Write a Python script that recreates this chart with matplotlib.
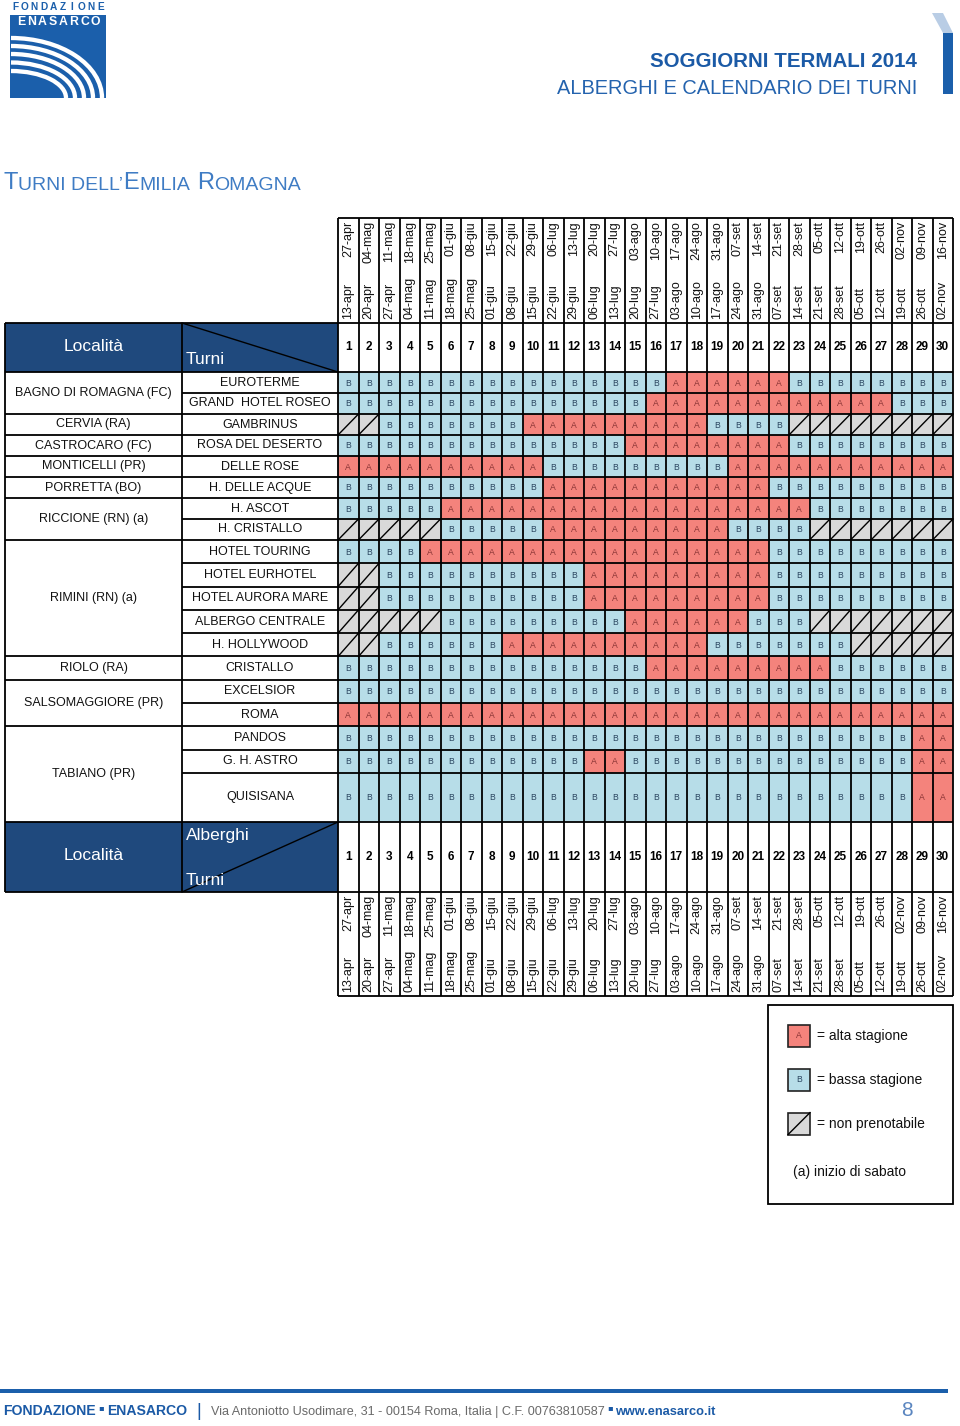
import matplotlib
matplotlib.use("Agg")
import matplotlib.pyplot as plt
from matplotlib.patches import Rectangle, Polygon, Arc
from matplotlib import font_manager as fm

# ---------------- data ----------------
turni = ["1", "2", "3", "4", "5", "6", "7", "8", "9", "10",
         "11", "12", "13", "14", "15", "16", "17", "18", "19", "20",
         "21", "22", "23", "24", "25", "26", "27", "28", "29", "30"]
start_dates = ["13-apr", "20-apr", "27-apr", "04-mag", "11-mag", "18-mag", "25-mag",
               "01-giu", "08-giu", "15-giu", "22-giu", "29-giu", "06-lug", "13-lug",
               "20-lug", "27-lug", "03-ago", "10-ago", "17-ago", "24-ago", "31-ago",
               "07-set", "14-set", "21-set", "28-set", "05-ott", "12-ott", "19-ott",
               "26-ott", "02-nov"]
end_dates = ["27-apr", "04-mag", "11-mag", "18-mag", "25-mag", "01-giu", "08-giu",
             "15-giu", "22-giu", "29-giu", "06-lug", "13-lug", "20-lug", "27-lug",
             "03-ago", "10-ago", "17-ago", "24-ago", "31-ago", "07-set", "14-set",
             "21-set", "28-set", "05-ott", "12-ott", "19-ott", "26-ott", "02-nov",
             "09-nov", "16-nov"]
localita = ["BAGNO DI ROMAGNA (FC)", "CERVIA (RA)", "CASTROCARO (FC)", "MONTICELLI (PR)",
            "PORRETTA (BO)", "RICCIONE (RN) (a)", "RIMINI (RN) (a)", "RIOLO (RA)",
            "SALSOMAGGIORE (PR)", "TABIANO (PR)"]
hotels_per_localita = [2, 1, 1, 1, 1, 2, 5, 1, 2, 3]
hotels = ["EUROTERME", "GRAND  HOTEL ROSEO", "GAMBRINUS", "ROSA DEL DESERTO", "DELLE ROSE",
          "H. DELLE ACQUE", "H. ASCOT", "H. CRISTALLO", "HOTEL TOURING", "HOTEL EURHOTEL",
          "HOTEL AURORA MARE", "ALBERGO CENTRALE", "H. HOLLYWOOD", "CRISTALLO", "EXCELSIOR",
          "ROMA", "PANDOS", "G. H. ASTRO", "QUISISANA"]
# A = alta stagione, B = bassa stagione, X = non prenotabile (run lengths over the 30 turni)
stagione_runs = [
    [("B", 16), ("A", 6), ("B", 8)],                          # EUROTERME
    [("B", 15), ("A", 12), ("B", 3)],                         # GRAND HOTEL ROSEO
    [("X", 2), ("B", 7), ("A", 9), ("B", 4), ("X", 8)],       # GAMBRINUS
    [("B", 14), ("A", 8), ("B", 8)],                          # ROSA DEL DESERTO
    [("A", 10), ("B", 9), ("A", 11)],                         # DELLE ROSE
    [("B", 10), ("A", 11), ("B", 9)],                         # H. DELLE ACQUE
    [("B", 5), ("A", 18), ("B", 7)],                          # H. ASCOT
    [("X", 5), ("B", 5), ("A", 9), ("B", 4), ("X", 7)],       # H. CRISTALLO
    [("B", 4), ("A", 17), ("B", 9)],                          # HOTEL TOURING
    [("X", 2), ("B", 10), ("A", 9), ("B", 9)],                # HOTEL EURHOTEL
    [("X", 2), ("B", 10), ("A", 9), ("B", 9)],                # HOTEL AURORA MARE
    [("X", 5), ("B", 9), ("A", 6), ("B", 3), ("X", 7)],       # ALBERGO CENTRALE
    [("X", 2), ("B", 6), ("A", 10), ("B", 7), ("X", 5)],      # H. HOLLYWOOD
    [("B", 15), ("A", 9), ("B", 6)],                          # CRISTALLO
    [("B", 30)],                                              # EXCELSIOR
    [("A", 30)],                                              # ROMA
    [("B", 28), ("A", 2)],                                    # PANDOS
    [("B", 12), ("A", 2), ("B", 14), ("A", 2)],               # G. H. ASTRO
    [("B", 28), ("A", 2)],                                    # QUISISANA
]
legend_codes = ["A", "B", "X"]
legend_labels = ["= alta stagione", "= bassa stagione", "= non prenotabile"]
nota = "(a) inizio di sabato"


# ---------------- fonts ----------------
def has_font(name):
    try:
        fm.findfont(fm.FontProperties(family=name), fallback_to_default=False)
        return True
    except Exception:
        return False


SANS = ["Liberation Sans", "DejaVu Sans"]
NARROW_OK = has_font("Liberation Sans Narrow")
NARROW = ["Liberation Sans Narrow", "Liberation Sans", "DejaVu Sans"] if NARROW_OK else SANS
KN = 1.0 if NARROW_OK else 0.82

NAVY = "#1f497d"
BLUE = "#1d5ca8"
FILL = {"A": "#f4837c", "B": "#b7dde8", "X": "#d9d9d9"}
LET = {"A": "#8a3535", "B": "#2b4660"}

# ---------------- figure ----------------
W, H = 960, 1426
fig = plt.figure(figsize=(9.6, 14.26), dpi=100)
fig.patch.set_facecolor("white")
ax = fig.add_axes([0, 0, 1, 1])
ax.set_xlim(0, W)
ax.set_ylim(H, 0)
ax.axis("off")

# layout
X0, CW = 338.0, 20.5
NC = len(turni)
X1 = X0 + NC * CW
LX0, LX1 = 5.0, 182.0
TOP_D0, TOP_D1 = 218.0, 323.0
HDR1 = 372.0
row_h = [21.0] * 8 + [23.3] * 10 + [49.0]
row_edges = [HDR1]
for h in row_h:
    row_edges.append(row_edges[-1] + h)
TB = row_edges[-1]           # table bottom
BH1 = TB + 70.0              # bottom header end
BD1 = BH1 + 104.0            # bottom dates end
LW = 1.3


def col_x(i):
    return X0 + i * CW


# ---------------- cells ----------------
for r, runs in enumerate(stagione_runs):
    y0, y1 = row_edges[r], row_edges[r + 1]
    c = 0
    for code, n in runs:
        for _ in range(n):
            x = col_x(c)
            ax.add_patch(Rectangle((x, y0), CW, y1 - y0, facecolor=FILL[code],
                                   edgecolor="none", zorder=1))
            if code == "X":
                ax.plot([x, x + CW], [y1, y0], color="black", lw=1.0, zorder=3)
            else:
                ax.text(x + CW / 2, (y0 + y1) / 2 + 0.5, code, fontsize=6.2,
                        color=LET[code], ha="center", va="center", family=SANS, zorder=4)
            c += 1

# ---------------- headers ----------------
for (ya, yb) in [(TOP_D1, HDR1), (TB, BH1)]:
    ax.add_patch(Rectangle((LX0, ya), X0 - LX0, yb - ya, facecolor=NAVY,
                           edgecolor="none", zorder=1))
    for i, t in enumerate(turni):
        ax.text(col_x(i) + CW / 2, (ya + yb) / 2, t, fontsize=8.5, fontweight="bold",
                ha="center", va="center", family=SANS, zorder=4)
    ax.text((LX0 + LX1) / 2, (ya + yb) / 2 - 1, "Località", fontsize=12.5, color="white",
            ha="center", va="center", family=SANS, zorder=4)

# diagonals and labels in header cells
ax.plot([LX1, X0], [TOP_D1, HDR1], color="black", lw=1.0, zorder=3)
ax.text(LX1 + 4, HDR1 - 13, "Turni", fontsize=12.5, color="white", ha="left",
        va="center", family=SANS, zorder=4)
ax.plot([LX1, X0], [BH1, TB], color="black", lw=1.0, zorder=3)
ax.text(LX1 + 4, TB + 14, "Alberghi", fontsize=12.5, color="white", ha="left",
        va="center", family=SANS, zorder=4)
ax.text(LX1 + 4, BH1 - 11, "Turni", fontsize=12.5, color="white", ha="left",
        va="center", family=SANS, zorder=4)

# date labels (top & bottom)
for (d0, d1) in [(TOP_D0, TOP_D1), (BH1, BD1)]:
    for i in range(NC):
        xc = col_x(i) + CW / 2
        ax.text(xc, d1 - 4, start_dates[i], rotation=90, fontsize=9, ha="center",
                va="bottom", family=SANS, color="#111111", zorder=4)
        ax.text(xc, d0 + 3, end_dates[i], rotation=90, fontsize=9, ha="center",
                va="top", family=SANS, color="#111111", zorder=4)

# ---------------- left labels ----------------
r = 0
loc_edges = [row_edges[0]]
for name, n in zip(localita, hotels_per_localita):
    y0, y1 = row_edges[r], row_edges[r + n]
    ax.text((LX0 + LX1) / 2, (y0 + y1) / 2, name, fontsize=9, ha="center", va="center",
            family=SANS, color="#111111", zorder=4)
    r += n
    loc_edges.append(y1)
for i, name in enumerate(hotels):
    y0, y1 = row_edges[i], row_edges[i + 1]
    ax.text((LX1 + X0) / 2, (y0 + y1) / 2, name, fontsize=9, ha="center", va="center",
            family=SANS, color="#111111", zorder=4)

# ---------------- grid lines ----------------
for i in range(NC + 1):
    ax.vlines(col_x(i), TOP_D0, BD1, colors="black", lw=LW, zorder=5)
for y in [TOP_D0, BD1]:
    ax.hlines(y, X0, X1, colors="black", lw=LW, zorder=5)
for y in [TOP_D1, HDR1, TB, BH1]:
    ax.hlines(y, LX0, X1, colors="black", lw=LW, zorder=5)
for y in row_edges[1:-1]:
    ax.hlines(y, LX1, X1, colors="black", lw=LW, zorder=5)
for y in loc_edges[1:-1]:
    ax.hlines(y, LX0, LX1, colors="black", lw=LW, zorder=5)
for x in [LX0, LX1]:
    ax.vlines(x, TOP_D1, BH1, colors="black", lw=LW, zorder=5)

# ---------------- legend ----------------
lx0, ly0, lx1, ly1 = 768, 1005, 953, 1204
ax.add_patch(Rectangle((lx0, ly0), lx1 - lx0, ly1 - ly0, fill=False, edgecolor="black",
                       lw=1.3, zorder=5))
for i, (code, lab) in enumerate(zip(legend_codes, legend_labels)):
    cy = 1036 + i * 43.8
    s = 22
    ax.add_patch(Rectangle((788, cy - s / 2), s, s, facecolor=FILL[code],
                           edgecolor="#222222", lw=1.2, zorder=5))
    if code == "X":
        ax.plot([788, 788 + s], [cy + s / 2, cy - s / 2], color="black", lw=1.0, zorder=6)
    else:
        ax.text(788 + s / 2, cy, code, fontsize=6.2, color=LET[code], ha="center",
                va="center", family=SANS, zorder=6)
    ax.text(817, cy, lab, fontsize=10, ha="left", va="center", family=SANS,
            color="#111111", zorder=6)
ax.text(793, 1172, nota, fontsize=10, ha="left", va="center", family=SANS,
        color="#111111", zorder=6)

# ---------------- logo ----------------
box = Rectangle((10, 14.5), 96, 83.5, facecolor="#1b5fab", edgecolor="none", zorder=2)
ax.add_patch(box)
for i, ch in enumerate("FONDAZIONE"):
    ax.text(15.5 + i * 9.45, 7.5, ch, fontsize=7.3, fontweight="bold", color="#1b5fab",
            ha="center", va="center", family=SANS, zorder=3)
for i, ch in enumerate("ENASARCO"):
    ax.text(21.5 + i * 10.5, 22, ch, fontsize=8.8, fontweight="bold", color="white",
            ha="center", va="center", family=SANS, zorder=3)
for rx, ry in [(91, 60), (82, 52), (73, 44), (64, 35.5), (55, 27)]:
    a = Arc((11, 98), 2 * rx, 2 * ry, theta1=270, theta2=360, color="white", lw=3.1,
            zorder=3)
    ax.add_patch(a)
    a.set_clip_path(box)

# top-right decoration
ax.add_patch(Polygon([(932, 13), (943, 13), (953, 33), (943, 33)], closed=True,
                     facecolor="#b9cde5", edgecolor="none", zorder=2))
ax.add_patch(Rectangle((943, 33), 10, 61, facecolor="#1b5fab", edgecolor="none", zorder=2))

# titles
ax.text(917, 67, "SOGGIORNI TERMALI 2014", fontsize=18 * KN, fontweight="bold",
        color="#1b5aa6", ha="right", va="baseline", family=NARROW, zorder=3)
ax.text(917, 94, "ALBERGHI E CALENDARIO DEI TURNI", fontsize=17.6 * KN,
        color="#2463ae", ha="right", va="baseline", family=NARROW, zorder=3)


def chain(x, y, parts):
    prev = None
    for s, kw, gap, dy in parts:
        if prev is None:
            prev = ax.text(x, y, s, ha="left", va="baseline", zorder=3, **kw)
        else:
            prev = ax.annotate(s, xy=(1, 0), xycoords=prev, xytext=(gap, dy),
                               textcoords="offset points", ha="left", va="bottom",
                               zorder=3, **kw)
    return prev


SUB = "#3f7cc4"
big = dict(fontsize=17, color=SUB, family=SANS)
small = dict(fontsize=14, color=SUB, family=SANS)
chain(3, 189, [("T", big, 0, 0), ("URNI DELL\u2019", small, 0.5, 0), ("E", big, 0, 0),
               ("MILIA", small, 0.5, 0), ("R", big, 4.5, 0), ("OMAGNA", small, 0.5, 0)])

# ---------------- footer ----------------
ax.add_patch(Rectangle((0, 1388.5), 948, 4.5, facecolor="#1b5fab", edgecolor="none",
                       zorder=2))
fb = dict(fontsize=10.1, fontweight="bold", color="#1b5aa6", family=SANS)
fg = dict(fontsize=9.1, color="#6a6a6a", family=SANS)
fl = dict(fontsize=9.2, fontweight="bold", color="#1b5aa6", family=SANS)
dot = dict(fontsize=6, color="#1b5aa6", family=["DejaVu Sans"])
sep = dict(fontsize=13, color="#1b5aa6", family=SANS)
p1 = chain(3, 1415, [("FONDAZIONE", fb, 0, 0), ("\u25aa", dot, 2, 4), ("ENASARCO", fb, 2, -4),
                     ("|", sep, 7, -1.5),
                     ("Via Antoniotto Usodimare, 31 - 00154 Roma, Italia | C.F. 00763810587",
                      fg, 7, 1.5),
                     ("\u25aa", dot, 1.5, 4), ("www.enasarco.it", fl, 1.5, -4)])
ax.text(907, 1410, "8", fontsize=15, color="#5b86c0", ha="center", va="center",
        family=SANS, zorder=3)

fig.savefig("out.png", dpi=100, facecolor="white")
